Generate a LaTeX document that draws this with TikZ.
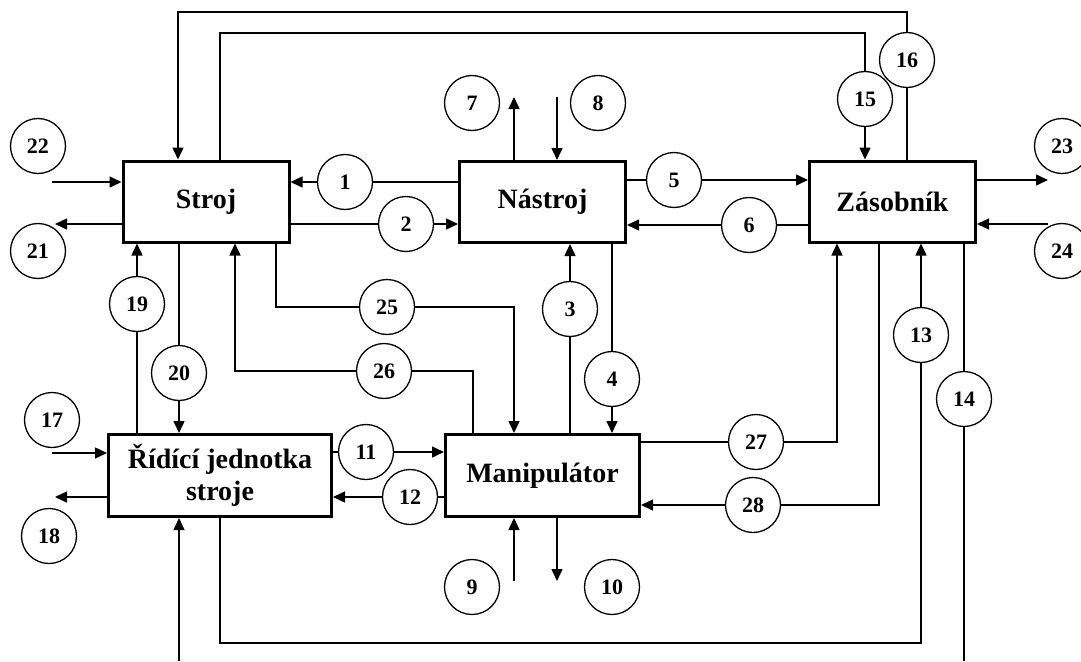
\documentclass[tikz,border=0pt]{standalone}
\usepackage{fontspec}
\setmainfont{Liberation Serif}
\usepackage{tikz}
\usetikzlibrary{arrows.meta,positioning,calc}

\begin{document}
\begin{tikzpicture}[
  x=1pt, y=-1pt,
  unitbox/.style={rectangle, draw=black, fill=white, line width=3pt, inner sep=0pt, minimum width=166pt, minimum height=81pt, align=center, font=\fontsize{28}{32}\selectfont\bfseries},
  numcircle/.style={circle, draw=black, fill=white, line width=1.3pt, inner sep=0pt, minimum size=55pt, font=\fontsize{22}{24}\selectfont\bfseries},
  link/.style={line width=1.5pt},
  arrow/.style={link, -{Triangle[length=12pt,width=11pt]}}
]
\useasboundingbox (0,0) rectangle (1081,661);

% bloky
\node[unitbox] (stroj) at (206,201.5) {Stroj};
\node[unitbox] (nastroj) at (542.5,202) {Nástroj};
\node[unitbox] (zasobnik) at (892.5,201.5) {Zásobník};
\node[unitbox, minimum width=223pt, minimum height=82pt] (rjs) at (220,475.5) {Řídící jednotka\\stroje};
\node[unitbox, minimum width=194pt, minimum height=82pt] (manip) at (542.5,475.5) {Manipulátor};

% cisla
\node[numcircle] (c1) at (345,182) {1};
\node[numcircle] (c2) at (406,224) {2};
\node[numcircle] (c3) at (570,309) {3};
\node[numcircle] (c4) at (612,379) {4};
\node[numcircle] (c5) at (674,180) {5};
\node[numcircle] (c6) at (749,225) {6};
\node[numcircle] (c7) at (472,103) {7};
\node[numcircle] (c8) at (598,103) {8};
\node[numcircle] (c9) at (472,587) {9};
\node[numcircle] (c10) at (612,587) {10};
\node[numcircle] (c11) at (366,452) {11};
\node[numcircle] (c12) at (410,497) {12};
\node[numcircle] (c13) at (921,335) {13};
\node[numcircle] (c14) at (964,399) {14};
\node[numcircle] (c15) at (865,99) {15};
\node[numcircle] (c16) at (907,60) {16};
\node[numcircle] (c17) at (52,420) {17};
\node[numcircle] (c18) at (49,536) {18};
\node[numcircle] (c19) at (137,304) {19};
\node[numcircle] (c20) at (179,373) {20};
\node[numcircle] (c21) at (38,251) {21};
\node[numcircle] (c22) at (38,146) {22};
\node[numcircle] (c23) at (1062,146) {23};
\node[numcircle] (c24) at (1062,251) {24};
\node[numcircle] (c25) at (387,307) {25};
\node[numcircle] (c26) at (384,371) {26};
\node[numcircle] (c27) at (756,442) {27};
\node[numcircle] (c28) at (753,505) {28};

% body vedeni
\coordinate (topA) at (178,12);
\coordinate (topB) at (220,33);
\coordinate (k25) at (276,307);
\coordinate (j25) at (514,307);
\coordinate (k26) at (473,371);
\coordinate (j26) at (235,371);
\coordinate (k27) at (837,442);
\coordinate (k28) at (879,505);
\coordinate (k13a) at (220,643);
\coordinate (k13b) at (921,643);
\coordinate (out7) at (514,97);
\coordinate (in8) at (557,97);
\coordinate (in9) at (514,581);
\coordinate (out10) at (557,581);
\coordinate (out14) at (964,661);
\coordinate (inb) at (179,661);
\coordinate (in17) at (52,453);
\coordinate (out18) at (55,497);
\coordinate (out21) at (55,224);
\coordinate (in22) at (52,182);
\coordinate (out23) at (1048,180);
\coordinate (in24) at (1048,224);

% horni smycky
\draw[link] (zasobnik.north -| c16) -- (c16);
\draw[arrow] (c16) |- (topA) -- (topA |- stroj.north);
\draw[link] (topB |- stroj.north) -- (topB) -| (c15);
\draw[arrow] (c15) -- (c15 |- zasobnik.north);

% stroj - nastroj - zasobnik
\draw[link] (nastroj.west |- c1) -- (c1);
\draw[arrow] (c1) -- (stroj.east |- c1);
\draw[link] (stroj.east |- c2) -- (c2);
\draw[arrow] (c2) -- (nastroj.west |- c2);
\draw[link] (nastroj.east |- c5) -- (c5);
\draw[arrow] (c5) -- (zasobnik.west |- c5);
\draw[link] (zasobnik.west |- c6) -- (c6);
\draw[arrow] (c6) -- (nastroj.east |- c6);
\draw[arrow] (out7 |- nastroj.north) -- (out7);
\draw[arrow] (in8) -- (in8 |- nastroj.north);
\draw[arrow] (in22) -- (in22 -| stroj.west);
\draw[arrow] (stroj.west |- out21) -- (out21);
\draw[arrow] (zasobnik.east |- out23) -- (out23);
\draw[arrow] (in24) -- (in24 -| zasobnik.east);

% svisle vazby
\draw[link] (rjs.north -| c19) -- (c19);
\draw[arrow] (c19) -- (stroj.south -| c19);
\draw[link] (stroj.south -| c20) -- (c20);
\draw[arrow] (c20) -- (rjs.north -| c20);
\draw[link] (k25 |- stroj.south) -- (k25) -- (c25);
\draw[arrow] (c25) -- (j25) -- (j25 |- manip.north);
\draw[link] (k26 |- manip.north) -- (k26) -- (c26);
\draw[arrow] (c26) -- (j26) -- (j26 |- stroj.south);
\draw[link] (manip.north -| c3) -- (c3);
\draw[arrow] (c3) -- (nastroj.south -| c3);
\draw[link] (nastroj.south -| c4) -- (c4);
\draw[arrow] (c4) -- (manip.north -| c4);
\draw[link] (manip.east |- c27) -- (c27);
\draw[arrow] (c27) -- (k27) -- (k27 |- zasobnik.south);
\draw[link] (k28 |- zasobnik.south) -- (k28) -- (c28);
\draw[arrow] (c28) -- (manip.east |- c28);
\draw[link] (k13a |- rjs.south) -- (k13a) -- (k13b) -- (c13);
\draw[arrow] (c13) -- (zasobnik.south -| c13);
\draw[link] (zasobnik.south -| c14) -- (c14);
\draw[link] (c14) -- (out14);
\draw[arrow] (inb) -- (inb |- rjs.south);

% ridici jednotka - manipulator
\draw[arrow] (in17) -- (in17 -| rjs.west);
\draw[arrow] (rjs.west |- out18) -- (out18);
\draw[link] (rjs.east |- c11) -- (c11);
\draw[arrow] (c11) -- (manip.west |- c11);
\draw[link] (manip.west |- c12) -- (c12);
\draw[arrow] (c12) -- (rjs.east |- c12);
\draw[arrow] (in9) -- (in9 |- manip.south);
\draw[arrow] (out10 |- manip.south) -- (out10);
\end{tikzpicture}
\end{document}
